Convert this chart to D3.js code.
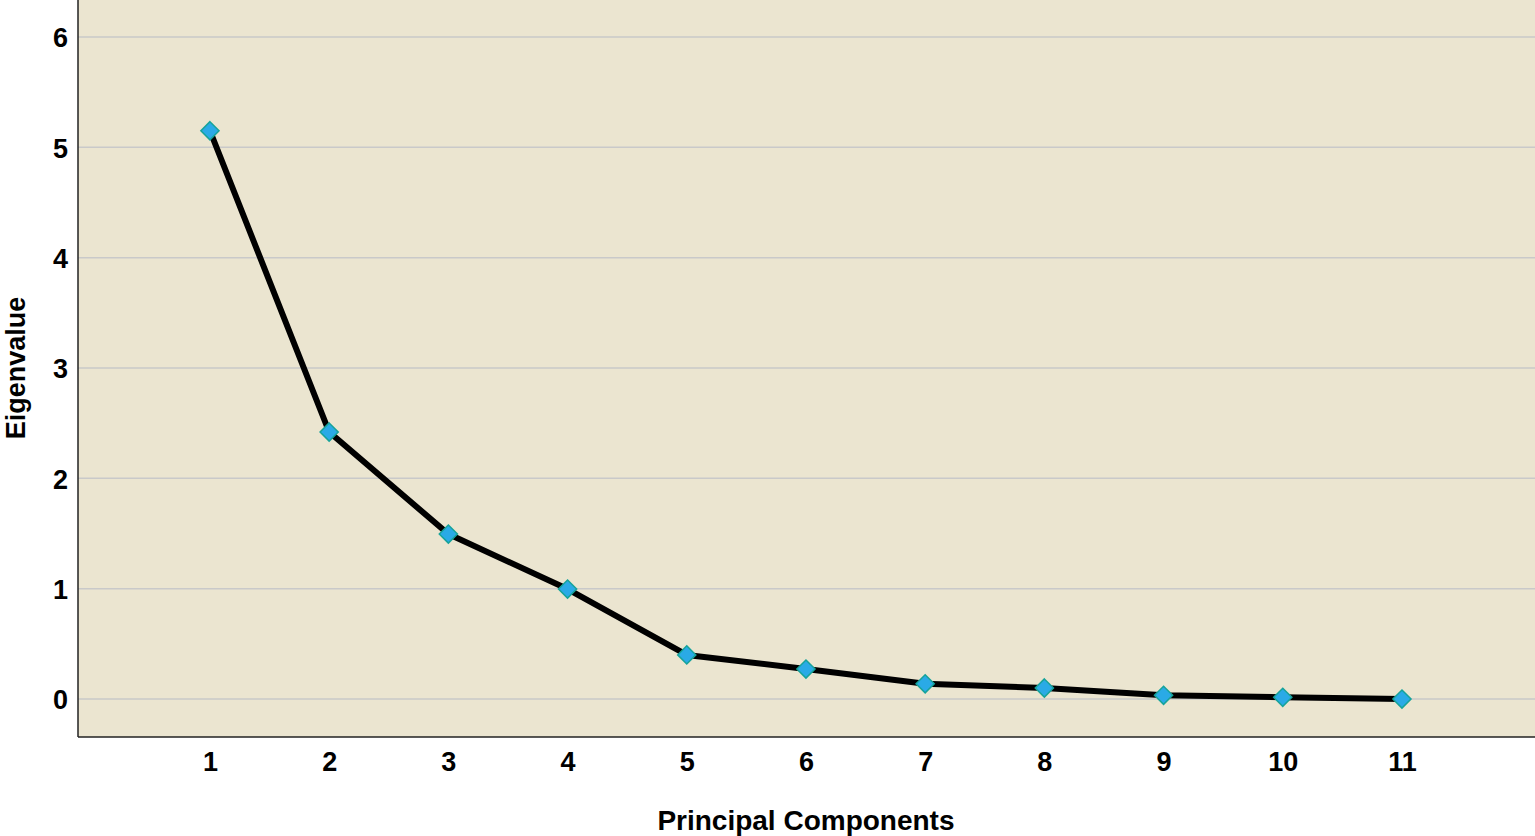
<!DOCTYPE html>
<html>
<head>
<meta charset="utf-8">
<script src="https://cdn.jsdelivr.net/npm/d3@7"></script>
<style>
  body { margin: 0; background: #fff; }
  text { font-family: "Liberation Sans", Arial, sans-serif; font-weight: bold; fill: #000; }
</style>
</head>
<body>
<div id="chart"></div>
<script>
// scree plot values
const components = [1, 2, 3, 4, 5, 6, 7, 8, 9, 10, 11];
const eigenvalues = [5.15, 2.42, 1.495, 0.997, 0.40, 0.272, 0.138, 0.10, 0.034, 0.016, 0.0];
const yTicks = [0, 1, 2, 3, 4, 5, 6];

const width = 1535, height = 836;
const margin = {top: 0, right: 0, bottom: 99, left: 78};
const w = width - margin.left - margin.right;
const h = height - margin.top - margin.bottom;

const svg = d3.select("#chart")
  .append("svg")
  .attr("width", width)
  .attr("height", height);

const g = svg.append("g")
  .attr("transform", "translate(" + margin.left + "," + margin.top + ")");

let x = d3.scaleLinear().domain([-0.107, 12.116]).range([0, w]);
let y = d3.scaleLinear().domain([-0.344, 6.335]).range([h, 0]);

g.append("rect")
  .attr("width", w)
  .attr("height", h)
  .style("fill", "#ebe5d0");

g.selectAll("line.grid")
  .data(yTicks)
  .enter().append("line")
  .attr("class", "grid")
  .attr("x1", 0)
  .attr("x2", w)
  .attr("y1", y)
  .attr("y2", y)
  .style("stroke", "#c9c9c9")
  .style("stroke-width", "1.5px");

// axes without tick marks
let yAxis = d3.axisLeft(y).tickValues(yTicks).tickFormat(d3.format("d")).tickSize(0).tickPadding(10);
g.append("g").attr("class", "y axis").call(yAxis);

let xAxis = d3.axisBottom(x).tickValues(components).tickFormat(d3.format("d")).tickSize(0).tickPadding(15);
g.append("g")
  .attr("class", "x axis")
  .attr("transform", "translate(0," + h + ")")
  .call(xAxis);

g.selectAll(".axis path.domain").style("stroke", "#222").style("stroke-width", "1.5px");
g.selectAll(".y.axis .domain").attr("d", "M0," + h + "V0");
g.selectAll(".x.axis .domain").attr("d", "M0,0H" + w);
g.selectAll(".axis text")
  .style("font-size", "27px")
  .style("font-family", "'Liberation Sans', Arial, sans-serif")
  .style("font-weight", "bold");
g.selectAll(".y.axis text").attr("dy", "0.36em");
g.selectAll(".x.axis text").attr("dy", "0.71em");

const pts = components.map((c, i) => ({c: c, v: eigenvalues[i]}));

let line = d3.line()
  .x(d => x(d.c))
  .y(d => y(d.v));

g.append("path")
  .datum(pts)
  .attr("d", line)
  .style("fill", "none")
  .style("stroke", "#000")
  .style("stroke-width", "6px")
  .style("stroke-linejoin", "round");

g.selectAll("path.marker")
  .data(pts)
  .enter().append("path")
  .attr("class", "marker")
  .attr("d", d3.symbol().type(d3.symbolDiamond2).size(210))
  .attr("transform", d => "translate(" + x(d.c) + "," + y(d.v) + ")")
  .style("fill", "#2aaae6")
  .style("stroke", "#16a39a")
  .style("stroke-width", "1.5px");

svg.append("text")
  .attr("x", margin.left + x(6))
  .attr("y", 830)
  .attr("text-anchor", "middle")
  .style("font-size", "28px")
  .text("Principal Components");

svg.append("text")
  .attr("transform", "translate(25," + y(3) + ") rotate(-90)")
  .attr("text-anchor", "middle")
  .style("font-size", "27px")
  .text("Eigenvalue");
</script>
</body>
</html>
